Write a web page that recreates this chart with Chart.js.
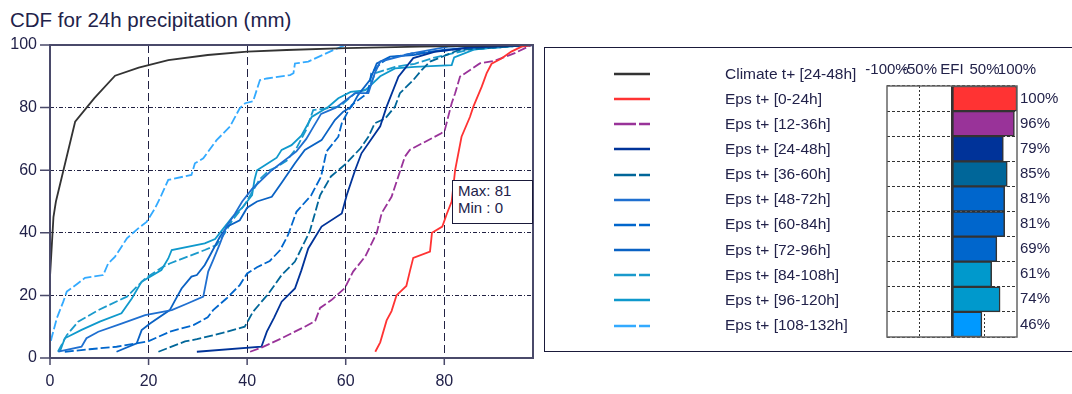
<!DOCTYPE html>
<html>
<head>
<meta charset="utf-8">
<script src="https://cdn.jsdelivr.net/npm/chart.js@4.4.0/dist/chart.umd.min.js"></script>
<style>
  html, body { margin: 0; padding: 0; background: #fff; }
  body { width: 1072px; height: 394px; position: relative; overflow: hidden;
         font-family: "Liberation Sans", Arial, sans-serif; color: #22224a; }
  #titre { position: absolute; left: 10px; top: 10px; font-size: 20.5px; line-height: 20px; white-space: nowrap; }
  #cdfWrap { position: absolute; left: 0; top: 0; width: 545px; height: 394px; }
  #panel { position: absolute; left: 544px; top: 47px; width: 540px; height: 305px;
           border: 1.5px solid #1a1a3a; box-sizing: border-box; }
  #efiWrap { position: absolute; left: 840px; top: 40px; width: 230px; height: 310px; }
  #maxmin { position: absolute; left: 452px; top: 180px; width: 81px; height: 44px; box-sizing: border-box;
            border: 1px solid #1a1a3a; background: #fff; font-size: 15px; line-height: 17px; padding: 1px 0 0 5px; }
  .legTxt { position: absolute; left: 725px; font-size: 15.5px; line-height: 20px; white-space: nowrap; }
  .legLine { position: absolute; left: 612px; width: 40px; height: 6px; }
</style>
</head>
<body>
<div id="titre">CDF for 24h precipitation (mm)</div>
<div id="cdfWrap"><canvas id="graficoCdf"></canvas></div>
<div id="maxmin">Max: 81<br>Min : 0</div>
<div id="panel"></div>
<div id="legende"></div>
<div id="efiWrap"><canvas id="graficoEfi"></canvas></div>

<script>
// ---- Données : [précipitation mm, pourcentage cumulé] ----
const climate24_48 = [[0,26],[0.7,45],[1.2,50],[5.1,75.5],[9,83],[13.2,90.2],[18,92.8],[24,95.2],[32,96.8],[40,97.9],[48,98.4],[60,99],[75,99.5],[98,100]];
const eps0_24 = [[66,2],[67,5],[68.3,12],[69.3,15],[70.3,20],[72.3,23],[73,27.6],[73.7,32],[77.1,34],[77.5,40],[79.6,42],[80.5,46],[81.5,50],[82.2,60],[83.5,70.7],[85.2,77],[85.9,80.3],[87.6,86.7],[88.6,91],[89.6,94],[91.6,95.7],[93.6,97.9],[95.7,99.5],[97.7,100]];
const eps12_36 = [[40.6,2],[42.9,3.3],[47,6.3],[51.7,10],[53.8,11.8],[54.8,16],[57.1,18.5],[59.8,22.3],[61.5,27.6],[64,32.5],[66.3,40],[67.3,46.3],[69.3,51.5],[72,64.3],[73,66.5],[79.4,71.8],[80.1,72.8],[81.5,81.4],[82.2,84.6],[83.2,89.9],[87.2,94.1],[90.3,95],[94.3,97.4],[97.7,100]];
const eps24_48 = [[29.8,2],[42.9,3.6],[44,8.4],[45.5,13],[47,18],[49.7,22.2],[51,28],[52.4,35],[55.1,42],[59.2,46.2],[60.2,52],[61.9,60],[63.2,65.4],[67,74],[68.3,80.3],[70.7,89.9],[73.7,95.8],[78,97.8],[85,99.2],[98,100]];
const eps36_60 = [[22,2],[27.4,5.3],[29.8,6],[35,8],[39.5,10],[41.2,14.8],[44.3,20.5],[47,26.5],[49.7,30.8],[52.7,40.4],[54.8,52],[57,58],[60,62],[63,67],[64.6,70.7],[65.9,75],[68,76.5],[70,80.3],[71,84.6],[73.7,88.8],[75.4,92],[77.1,94.7],[83,98.4],[95,99.7],[98,100]];
const eps48_72 = [[1.7,2],[6.4,3.6],[7.4,6.3],[9.8,8.4],[14.5,11],[19.3,13.7],[24.7,15.3],[28,17.5],[31.1,19.6],[32.1,27.6],[33.1,31.3],[34.5,36.6],[35.8,42],[37.5,46],[39,50],[41,54],[43,57],[45,60],[47.5,63],[50,66],[52,70],[53.5,74],[55,78],[58,80],[61.9,84.6],[64.6,84.6],[65.9,91],[67,94.7],[73.4,97.3],[80.8,99.5],[98,100]];
const eps60_84 = [[3,2],[8,2.8],[13.5,3.6],[19.9,5.3],[24.3,8.4],[29.1,10.5],[32,13],[33.1,15.3],[35.8,19],[38.5,23.3],[40,27],[42,29],[44.6,31],[46.7,34.5],[48.3,39.3],[50,46.7],[53,52],[55,58],[56.1,66],[58.5,70.7],[59.2,75],[60.2,78],[61.2,80.8],[63.9,84],[64.6,85.6],[65.2,91],[67,94],[68.6,95.8],[73.4,97.3],[85,99],[98,100]];
const eps72_96 = [[13.5,2],[17.6,4.7],[18.6,8.9],[20.3,11],[24.3,15.3],[25.4,18.5],[26.7,22.2],[28.7,26],[29.8,26.5],[31.4,29.7],[32.5,32.9],[34.5,38.8],[36,42],[38.5,44],[40,48],[42,50],[45,51.5],[47,56],[49.7,62.2],[51.7,66.5],[55.1,69.6],[57.8,76],[59.5,78.7],[61.2,80.3],[62.5,84],[64.9,88.8],[66.3,94.1],[69,96.3],[73.7,96.8],[80,98.5],[92,99.7],[98,100]];
const eps84_108 = [[1.6,2],[3.4,7.3],[5.7,11.6],[9.8,15.3],[15.6,19.6],[19.3,25.4],[23,29.2],[24.3,30.2],[31.4,34.5],[33.8,36.1],[35.5,40],[37,44],[39.5,49],[41,53],[42.5,57],[44.5,60],[46,61],[48,63],[50,67],[52,73],[53.4,79.2],[58.8,80.3],[60,82],[61.9,84.6],[64.6,86],[66,91],[70,93],[74,94],[78,96],[85,98.5],[98,100]];
const eps96_120 = [[2,2],[3,6.3],[6.4,9],[10.1,11.6],[14.5,14.3],[16.6,19],[18.6,24.4],[22.6,28.1],[24,31.8],[24.7,34.5],[31.4,36.6],[33.5,38],[35,41],[37,45],[39,48],[41,52],[41.5,57],[42,60],[44,62],[46,64],[47,66.5],[49,68],[51,71],[53.1,77],[56.5,80.3],[58.5,83],[61,85],[63.9,85.5],[65,87],[67,90],[70,92.5],[74,93],[81.5,93.6],[82,96],[86,98.5],[92,99.6],[98,100]];
const eps108_132 = [[0.2,5.5],[0.3,6.3],[1.4,12.8],[2.7,18],[3.4,21.2],[5.7,23.9],[7.1,25.6],[10.8,26.5],[11.8,30.2],[13.2,32.4],[15.6,38.2],[17.9,41.4],[19.6,43.5],[21.3,47.8],[22.6,52],[24,56.9],[28.7,58.5],[29.4,62.2],[31.1,63.8],[33.8,69.6],[34.8,71.2],[36.5,73.9],[38.5,79.8],[39.6,81.4],[41.2,82],[42.6,88.8],[44,89.3],[48.7,90.4],[49.4,91],[49.7,94.1],[52.4,94.7],[56.8,97.9],[59.5,99.7],[60,100]];

const seriesLabels = ["Climate t+ [24-48h]","Eps t+ [0-24h]","Eps t+ [12-36h]","Eps t+ [24-48h]","Eps t+ [36-60h]","Eps t+ [48-72h]","Eps t+ [60-84h]","Eps t+ [72-96h]","Eps t+ [84-108h]","Eps t+ [96-120h]","Eps t+ [108-132h]"];
const seriesData = [climate24_48, eps0_24, eps12_36, eps24_48, eps36_60, eps48_72, eps60_84, eps72_96, eps84_108, eps96_120, eps108_132];
const efiValues = [100, 96, 79, 85, 81, 81, 69, 61, 74, 46];
const xTicks = [0, 20, 40, 60, 80];
const yTicks = [0, 20, 40, 60, 80, 100];
const efiTicks = [-100, -50, 0, 50, 100];

// styles
const seriesColors = ["#333333","#ff3333","#993399","#003399","#006699","#1f6fd0","#0066cc","#0a62c4","#1a9acc","#0f99cc","#33aaff"];
const seriesDashed = [false,false,true,false,true,false,true,false,true,false,true];
const efiColors = ["#ff3333","#993399","#003399","#006699","#0066cc","#0066cc","#0066cc","#0099cc","#0099cc","#0099ff"];
const inkColor = "#22224a";
const frameColor = "#4a4a6a";
const gridColor = "#222244";

// ---- Légende (HTML) ----
const legende = document.getElementById("legende");
seriesLabels.forEach((lab, i) => {
  const yc = 74 + 25.15 * i;
  const t = document.createElement("div");
  t.className = "legTxt";
  t.style.top = (yc - 10.5) + "px";
  t.textContent = lab;
  legende.appendChild(t);
  const s = document.createElementNS("http://www.w3.org/2000/svg", "svg");
  s.setAttribute("class", "legLine");
  s.style.top = (yc - 3) + "px";
  s.innerHTML = '<line x1="2" y1="3" x2="38" y2="3" stroke="' + seriesColors[i] + '" stroke-width="2.4"' +
    (seriesDashed[i] ? ' stroke-dasharray="22 3"' : '') + '/>';
  legende.appendChild(s);
});

// ---- Graphique CDF ----
const cadreCdf = {
  id: "cadreCdf",
  afterDraw(chart) {
    const { ctx, chartArea: a, scales } = chart;
    ctx.save();
    ctx.setLineDash([]);
    ctx.strokeStyle = frameColor;
    ctx.lineWidth = 1.5;
    ctx.beginPath();
    yTicks.forEach(v => { const py = scales.y.getPixelForValue(v); ctx.moveTo(a.left - 10, py); ctx.lineTo(a.left, py); });
    xTicks.forEach(v => { const px = scales.x.getPixelForValue(v); ctx.moveTo(px, a.bottom); ctx.lineTo(px, a.bottom + 7); });
    ctx.stroke();
    ctx.lineWidth = 2;
    ctx.strokeRect(a.left, a.top, a.width, a.height);
    ctx.restore();
  }
};

new Chart(document.getElementById("graficoCdf"), {
  type: "line",
  data: {
    datasets: seriesData.map((d, i) => ({
      label: seriesLabels[i],
      data: d.map(([x, y]) => ({ x, y })),
      borderColor: seriesColors[i],
      borderWidth: 1.8,
      borderDash: seriesDashed[i] ? [9, 3] : [],
      pointRadius: 0,
      tension: 0,
      fill: false,
    })),
  },
  options: {
    responsive: true,
    maintainAspectRatio: false,
    animation: false,
    layout: { padding: { left: 0, top: 45, right: 12, bottom: 0 } },
    plugins: { legend: { display: false }, tooltip: { enabled: false } },
    scales: {
      x: {
        type: "linear", min: 0, max: 98,
        afterBuildTicks: s => { s.ticks = xTicks.map(v => ({ value: v })); },
        afterFit: s => { s.height = 36; },
        grid: { color: gridColor, lineWidth: 1, drawTicks: false },
        border: { display: false, dash: [8, 4] },
        ticks: { color: inkColor, padding: 14, maxRotation: 0, font: { size: 16, family: "Liberation Sans" } },
      },
      y: {
        type: "linear", min: 0, max: 100,
        afterBuildTicks: s => { s.ticks = yTicks.map(v => ({ value: v })); },
        afterFit: s => { s.width = 50; },
        grid: { color: gridColor, lineWidth: 1, drawTicks: false },
        border: { display: false, dash: [4, 2, 1, 2] },
        ticks: { color: inkColor, padding: 13, font: { size: 16, family: "Liberation Sans" } },
      },
    },
  },
  plugins: [cadreCdf],
});

// ---- Graphique EFI ----
const cadreEfi = {
  id: "cadreEfi",
  afterDatasetsDraw(chart) {
    const { ctx, chartArea: a, scales } = chart;
    ctx.save();
    ctx.setLineDash([]);
    ctx.strokeStyle = "#333333";
    ctx.lineWidth = 2;
    const x0 = scales.x.getPixelForValue(0);
    ctx.beginPath(); ctx.moveTo(x0, a.top); ctx.lineTo(x0, a.bottom); ctx.stroke();
    ctx.strokeStyle = "#666666";
    ctx.lineWidth = 1.5;
    ctx.strokeRect(a.left, a.top, a.width, a.height);
    ctx.fillStyle = inkColor;
    ctx.font = "15px 'Liberation Sans'";
    ctx.textBaseline = "middle";
    ctx.textAlign = "left";
    chart.getDatasetMeta(0).data.forEach((bar, i) => {
      ctx.fillText(efiValues[i] + "%", a.right + 3, bar.y);
    });
    ctx.restore();
  }
};

new Chart(document.getElementById("graficoEfi"), {
  type: "bar",
  data: {
    labels: seriesLabels.slice(1),
    datasets: [{
      data: efiValues,
      backgroundColor: efiColors,
      borderColor: "#333333",
      borderWidth: 1.5,
      borderSkipped: false,
      barPercentage: 1,
      categoryPercentage: 1,
    }],
  },
  options: {
    indexAxis: "y",
    responsive: true,
    maintainAspectRatio: false,
    animation: false,
    layout: { padding: { left: 47, right: 53, top: 0, bottom: 13 } },
    plugins: { legend: { display: false }, tooltip: { enabled: false } },
    scales: {
      x: {
        position: "top", min: -100, max: 100,
        afterBuildTicks: s => { s.ticks = efiTicks.map(v => ({ value: v })); },
        afterFit: s => { s.height = 46; },
        grid: { color: c => (Math.abs(c.tick.value) === 50 ? "#333333" : "rgba(0,0,0,0)"), lineWidth: 1, drawTicks: false },
        border: { display: false, dash: [2, 2] },
        ticks: {
          color: inkColor, padding: 7, maxRotation: 0, minRotation: 0, autoSkip: false,
          font: { size: 15, family: "Liberation Sans" },
          callback: v => (v === 0 ? "EFI" : v + "%"),
        },
      },
      y: {
        afterFit: s => { s.width = 0; },
        grid: { color: "#333333", lineWidth: 1, offset: true, drawTicks: false },
        border: { display: false, dash: [3, 2] },
        ticks: { display: false },
      },
    },
  },
  plugins: [cadreEfi],
});
</script>
</body>
</html>
